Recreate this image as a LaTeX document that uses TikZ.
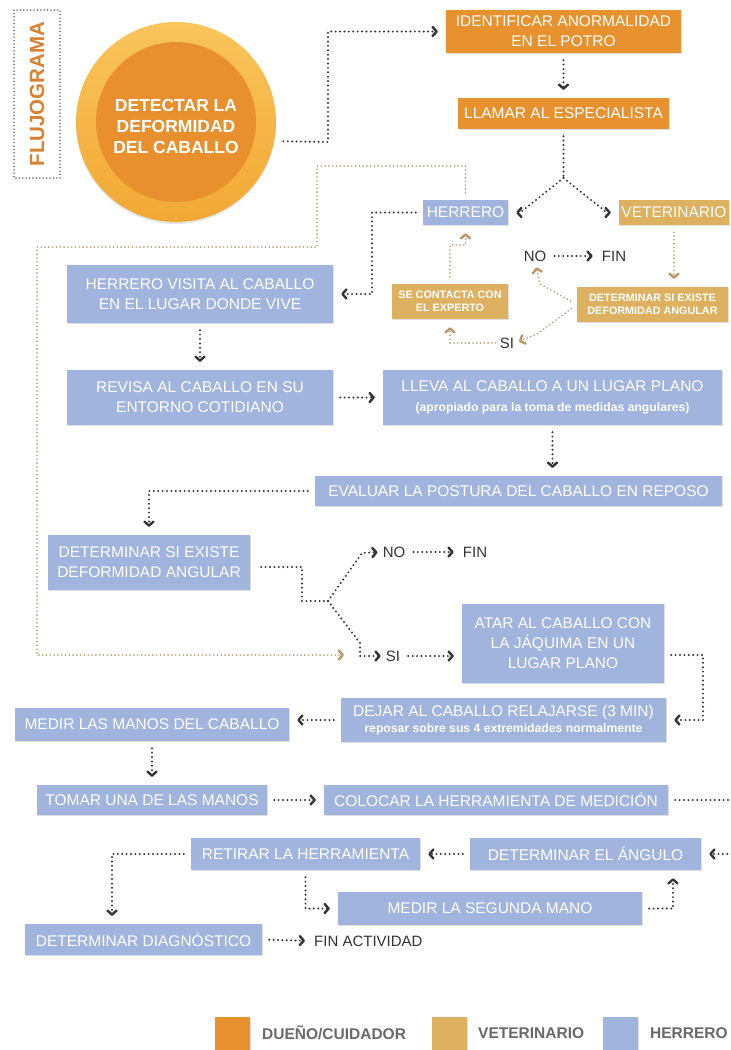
\documentclass[tikz,border=0pt]{standalone}
\usepackage{fontspec}
\setmainfont{Liberation Sans}
\usetikzlibrary{arrows.meta,shadows}

\definecolor{duenoC}{RGB}{232,145,47}
\definecolor{vetC}{RGB}{222,177,96}
\definecolor{herrC}{RGB}{161,180,221}
\definecolor{lineC}{RGB}{52,52,52}
\definecolor{tanlineC}{RGB}{185,152,105}
\definecolor{ringtopC}{RGB}{250,197,92}
\definecolor{ringbotC}{RGB}{242,168,52}
\definecolor{coreC}{RGB}{232,144,45}
\definecolor{titleC}{RGB}{218,128,48}
\definecolor{legendC}{RGB}{105,105,105}

\tikzset{
  caja/.style={rectangle, inner sep=0pt, align=center, text=white,
    font=\fontsize{15.5}{20}\selectfont,
    drop shadow={shadow xshift=.8pt, shadow yshift=-1pt, opacity=.25}},
  dueno/.style={caja, fill=duenoC},
  vet/.style={caja, fill=vetC, font=\bfseries\fontsize{10.8}{13.5}\selectfont},
  herr/.style={caja, fill=herrC},
  flecha/.style={draw=lineC, line width=2.2pt, line cap=round,
    dash pattern=on 0pt off 4.4pt,
    -{Straight Barb[length=4pt,width=9pt,line width=2.4pt,round]},
    shorten >=8pt, shorten <=7pt},
  linea/.style={flecha, -, shorten >=0pt},
  flechatan/.style={flecha, draw=tanlineC, line width=1.8pt,
    dash pattern=on 0pt off 3.8pt},
  txt/.style={inner sep=1pt, text=black!80, font=\fontsize{15}{18}\selectfont},
  leyenda/.style={anchor=west, inner sep=0pt, text=legendC,
    font=\bfseries\fontsize{15.5}{18}\selectfont},
  cuadro/.style={minimum size=35, inner sep=0pt,
    drop shadow={shadow xshift=.8pt, shadow yshift=-1pt, opacity=.25}},
}

\begin{document}
\begin{tikzpicture}[x=1pt,y=-1pt]
\useasboundingbox (0,0) rectangle (731,1050);
\fill[white] (0,0) rectangle (731,1050);
\clip (0,0) rectangle (731,1050);

\node[draw=lineC, line width=1.5pt, line cap=round, dash pattern=on 0pt off 3.4pt,
  minimum width=168, minimum height=46, rotate=90, text=titleC,
  font=\bfseries\fontsize{20.5}{24}\selectfont] (titulo) at (37,94) {FLUJOGRAMA};

% circulo
\node[circle, minimum size=200, top color=ringtopC, bottom color=ringbotC,
  drop shadow={shadow xshift=0pt, shadow yshift=-2pt, opacity=.2}] (detectar) at (176,122) {};
\node[circle, minimum size=160, fill=coreC] (nucleo) at (176,122) {};
\node[align=center, text=white, font=\bfseries\fontsize{17.5}{21}\selectfont]
  (lema) at (176,126) {DETECTAR LA\\DEFORMIDAD\\DEL CABALLO};

\node[dueno, minimum width=235, minimum height=43] (identificar) at (563.5,31.5) {IDENTIFICAR ANORMALIDAD\\EN EL POTRO};
\node[dueno, minimum width=211, minimum height=31] (llamar) at (563.5,113.5) {LLAMAR AL ESPECIALISTA};
\node[herr, minimum width=85, minimum height=25] (herrero) at (465.5,212.5) {HERRERO};
\node[caja, fill=vetC, minimum width=110, minimum height=25] (veterinario) at (674,212.5) {VETERINARIO};
\node[herr, minimum width=266, minimum height=58] (visita) at (200,294) {HERRERO VISITA AL CABALLO\\EN EL LUGAR DONDE VIVE};
\node[vet, minimum width=116, minimum height=35] (contacto) at (450,301.5) {SE CONTACTA CON\\EL EXPERTO};
\node[vet, minimum width=151, minimum height=35] (detvet) at (652.5,304.5) {DETERMINAR SI EXISTE\\DEFORMIDAD ANGULAR};
\node[txt] (noA) at (535,256) {NO};
\node[txt] (finA) at (614,256) {FIN};
\node[txt] (siA) at (507,343) {SI};

\node[herr, minimum width=266, minimum height=55] (revisa) at (200,397.5) {REVISA AL CABALLO EN SU\\ENTORNO COTIDIANO};
\node[herr, minimum width=339, minimum height=55] (lleva) at (552.5,397.5) {LLEVA AL CABALLO A UN LUGAR PLANO\\{\bfseries\fontsize{12.2}{14}\selectfont (apropiado para la toma de medidas angulares)}};
\node[herr, minimum width=407, minimum height=30] (evaluar) at (518.5,491) {EVALUAR LA POSTURA DEL CABALLO EN REPOSO};
\node[herr, minimum width=202, minimum height=55] (detherr) at (149,562.5) {DETERMINAR SI EXISTE\\DEFORMIDAD ANGULAR};
\node[txt] (noB) at (394,552) {NO};
\node[txt] (finB) at (475,552) {FIN};
\node[txt] (siB) at (393,656) {SI};
\node[herr, minimum width=202, minimum height=79] (atar) at (563,643.5) {ATAR AL CABALLO CON\\LA JÁQUIMA EN UN\\LUGAR PLANO};
\node[herr, minimum width=325, minimum height=44] (dejar) at (503.5,720) {DEJAR AL CABALLO RELAJARSE (3 MIN)\\[-4pt]{\bfseries\fontsize{12.2}{14}\selectfont reposar sobre sus 4 extremidades normalmente}};
\node[herr, minimum width=274, minimum height=33] (medir) at (152,724.5) {MEDIR LAS MANOS DEL CABALLO};
\node[herr, minimum width=230, minimum height=30] (tomar) at (152,800) {TOMAR UNA DE LAS MANOS};
\node[herr, minimum width=344, minimum height=30] (colocar) at (496,800) {COLOCAR LA HERRAMIENTA DE MEDICIÓN};
\node[herr, minimum width=231, minimum height=32] (angulo) at (585.5,854) {DETERMINAR EL ÁNGULO};
\node[herr, minimum width=229, minimum height=32] (retirar) at (305.5,854) {RETIRAR LA HERRAMIENTA};
\node[herr, minimum width=304, minimum height=33] (segunda) at (490,908.5) {MEDIR LA SEGUNDA MANO};
\node[herr, minimum width=237, minimum height=31] (diagnostico) at (143.5,939.5) {DETERMINAR DIAGNÓSTICO};
\node[txt, anchor=west] (finact) at (313,941) {FIN ACTIVIDAD};

% leyenda
\node[cuadro, fill=duenoC] (leyA) at (232.5,1034) {};
\node[leyenda] at (262,1033) {DUEÑO/CUIDADOR};
\node[cuadro, fill=vetC] (leyB) at (449.5,1034) {};
\node[leyenda] at (478,1033) {VETERINARIO};
\node[cuadro, fill=herrC] (leyC) at (620.5,1034) {};
\node[leyenda] at (650,1033) {HERRERO};

% conectores
\coordinate (tanfin) at (344,655);
\draw[flecha, shorten <=9pt] (detectar.-11.5) -- (328,142) |- (identificar.west);
\draw[flecha] (identificar.south) -- (llamar.north);
\draw[linea] (llamar.south) -- (563.5,178) coordinate (cruce);
\draw[flecha, shorten <=0pt] (cruce) -- ([xshift=12pt]herrero.east) -- (herrero.east);
\draw[flecha, shorten <=0pt] (cruce) -- ([xshift=-12pt]veterinario.west) -- (veterinario.west);
\draw[flecha] (herrero.west) -- (372,212.5) |- (visita.east);
\draw[flechatan, shorten >=0pt] (herrero.north) -- (465.5,166) -| (317,247) -| (37,655) -- (tanfin);
\draw[flechatan] (contacto.north) -- (450,245) -| (herrero.south);
\draw[flechatan] (veterinario.south) -- (veterinario.south |- detvet.north);
\draw[flechatan, shorten >=5pt] (detvet.west) -- (540,284) -- (noA.south);
\draw[flechatan, shorten >=4pt] (detvet.west) -- (537,334) -- (siA.east);
\draw[flechatan, shorten <=3pt] (siA.west) -| (contacto.south);
\draw[flecha] (noA.east) -- (finA.west);

\draw[flecha] (visita.south) -- (revisa.north);
\draw[flecha] (revisa.east) -- (lleva.west);
\draw[flecha] (lleva.south) -- (lleva.south |- evaluar.north);
\draw[flecha] (evaluar.west) -| (detherr.north);
\draw[linea, shorten <=11pt] ([yshift=-4.5pt]detherr.east) -- (302,567) |- (328,601) coordinate (cruceB);
\draw[flecha, shorten <=0pt, shorten >=4pt] (cruceB) -- (362,553) -- (noB.west);
\draw[flecha, shorten <=0pt, shorten >=4pt] (cruceB) -- (360,643) -- (360,656) -- (siB.west);
\draw[flecha] (noB.east) -- (finB.west);
\draw[flecha] (siB.east) -- (siB.east -| atar.west);
\draw[flecha] ([yshift=-11.5pt]atar.east) -- (703,655) |- (dejar.east);
\draw[flecha] (dejar.west) -- (dejar.west -| medir.east);
\draw[flecha] (medir.south) -- (tomar.north);
\draw[flecha] (tomar.east) -- (colocar.west);
\draw[flecha] (colocar.east) -- (760,800) |- (angulo.east);
\draw[flecha] (angulo.west) -- (retirar.east);
\draw[flecha] (retirar.west) -| (diagnostico.north -| 112,0);
\draw[flecha] (retirar.south) |- (segunda.west);
\draw[flecha] (segunda.east) -| (angulo.south -| 673,0);
\draw[flecha] (diagnostico.east) -- (finact.west);
\end{tikzpicture}
\end{document}
